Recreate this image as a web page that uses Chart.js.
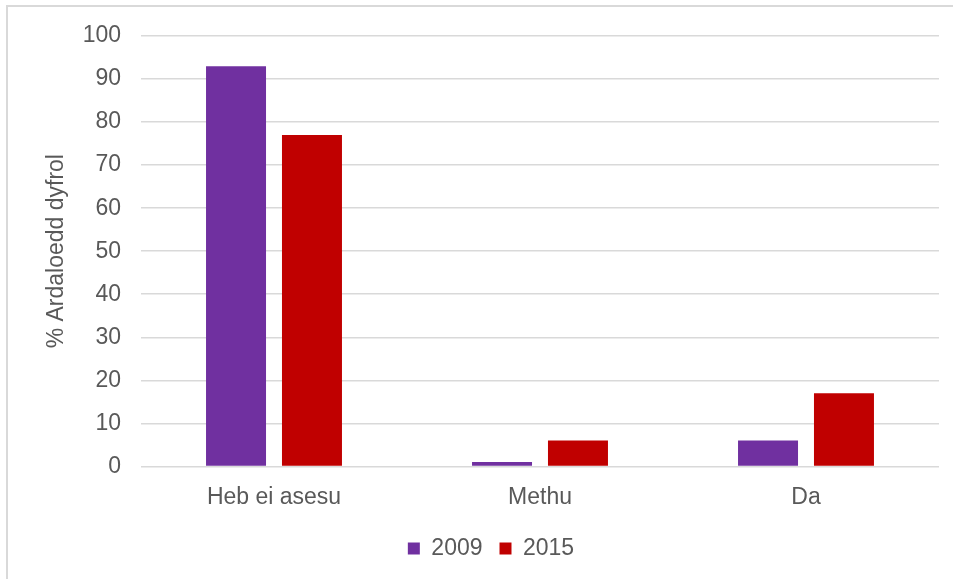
<!DOCTYPE html>
<html>
<head>
<meta charset="utf-8">
<script src="https://cdn.jsdelivr.net/npm/chart.js@4/dist/chart.umd.min.js"></script>
<style>
  html, body { margin: 0; padding: 0; background: #fff; }
  #wrap { position: relative; width: 953px; height: 579px; overflow: hidden; }
  #frame {
    position: absolute; left: 6px; top: 5px; width: 1000px; height: 1000px;
    border-left: 2px solid #d9d9d9; border-top: 2px solid #d9d9d9;
  }
  #chart { position: absolute; left: 0; top: 0; }
</style>
</head>
<body>
<div id="wrap">
  <div id="frame"></div>
  <canvas id="chart" width="953" height="579"></canvas>
</div>
<script>
const categories = ["Heb ei asesu", "Methu", "Da"];
const values2009 = [93, 1, 6];
const values2015 = [77, 6, 17];
const seriesLabels = ["2009", "2015"];
const yTicks = { min: 0, max: 100, step: 10 };

const textColor = "#595959";
const gridColor = "#d9d9d9";
const font = { family: "'Liberation Sans', Arial, sans-serif", size: 23 };

const ctx = document.getElementById("chart").getContext("2d");

new Chart(ctx, {
  type: "bar",
  data: {
    labels: categories,
    datasets: [
      {
        label: seriesLabels[0],
        data: values2009,
        backgroundColor: "#7030a0",
        borderWidth: 0,
        barPercentage: 0.79,
        categoryPercentage: 0.571,
      },
      {
        label: seriesLabels[1],
        data: values2015,
        backgroundColor: "#c00000",
        borderWidth: 0,
        barPercentage: 0.79,
        categoryPercentage: 0.571,
      },
    ],
  },
  options: {
    responsive: false,
    animation: false,
    layout: {
      padding: { top: 36, right: 14, bottom: 9, left: 43 },
    },
    plugins: {
      legend: {
        position: "bottom",
        labels: {
          color: textColor,
          font: font,
          boxWidth: 12,
          boxHeight: 12,
          padding: 17,
        },
      },
      tooltip: { enabled: false },
    },
    scales: {
      x: {
        grid: { display: false },
        border: { display: false },
        ticks: { color: textColor, font: font, padding: 9 },
      },
      y: {
        min: yTicks.min,
        max: yTicks.max,
        ticks: { stepSize: yTicks.step, color: textColor, font: font, padding: 20 },
        grid: { color: gridColor, lineWidth: 1.5, drawTicks: false },
        border: { display: false },
        title: {
          display: true,
          text: "% Ardaloedd dyfrol",
          color: textColor,
          font: font,
          padding: 0,
        },
        afterFit: (scale) => {
          scale.width = 98;
        },
      },
    },
  },
});
</script>
</body>
</html>
